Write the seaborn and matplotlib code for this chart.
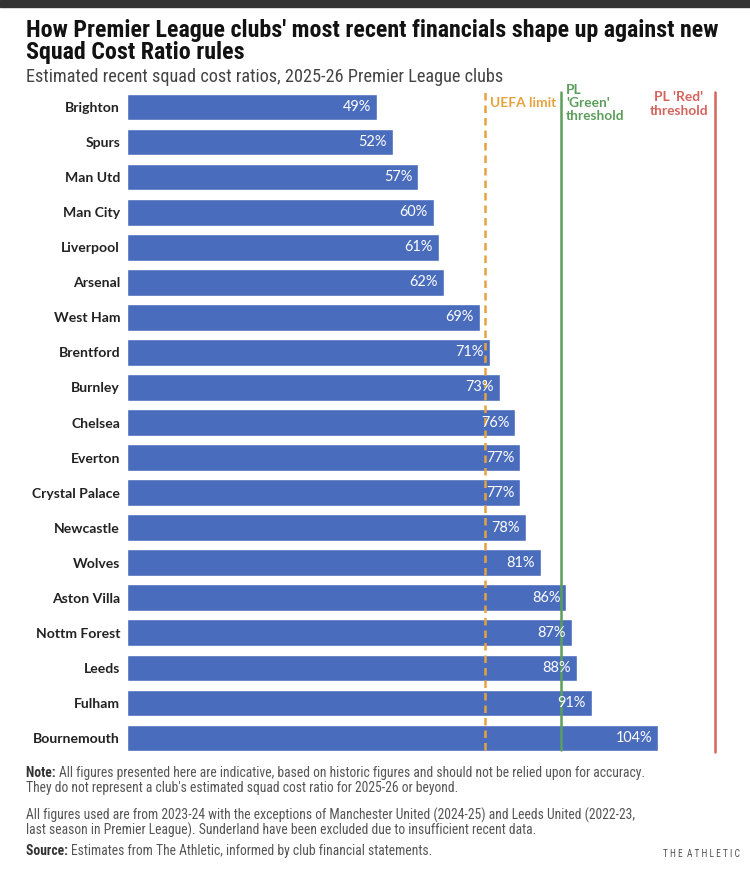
import matplotlib
matplotlib.use("Agg")
import matplotlib.pyplot as plt
import seaborn as sns

clubs = ["Brighton", "Spurs", "Man Utd", "Man City", "Liverpool", "Arsenal",
         "West Ham", "Brentford", "Burnley", "Chelsea", "Everton",
         "Crystal Palace", "Newcastle", "Wolves", "Aston Villa",
         "Nottm Forest", "Leeds", "Fulham", "Bournemouth"]
ratios = [49, 52, 57, 60, 61, 62, 69, 71, 73, 76, 77, 77, 78, 81, 86, 87, 88, 91, 104]

uefa_limit = 70
green_threshold = 85
red_threshold = 115

BLUE = "#4a6cbd"
ORANGE = "#e5a340"
GREEN = "#5c9e5c"
RED = "#d4645c"
COND = ["Roboto Condensed", "Roboto", "DejaVu Sans"]
SANS = ["Lato", "DejaVu Sans"]

W, H = 750, 877


def fx(px):
    return px / W


def fy(py):
    return 1 - py / H


def width_of(txt):
    return txt.get_window_extent(fig.canvas.get_renderer()).width


def fit(txt, width_px):
    # rescale the font so the text is width_px wide
    txt.set_fontsize(txt.get_fontsize() * width_px / width_of(txt))
    return txt


def fitted_size(s, width_px, **kw):
    probe = fig.text(0, 0, s, **kw)
    fit(probe, width_px)
    size = probe.get_fontsize()
    probe.remove()
    return size


sns.set_style("white")
plt.rcParams["font.family"] = COND
fig = plt.figure(figsize=(W / 100, H / 100), dpi=100)

# dark strip at the very top of the screenshot
fig.add_artist(plt.Rectangle((0, fy(7)), 1, 7 / H, transform=fig.transFigure,
                             color="#333333", zorder=0))

ax = fig.add_axes([fx(127), fy(755.5), fx(730) - fx(127), (755.5 - 89.5) / H])
sns.barplot(x=ratios, y=clubs, color=BLUE, saturation=1, width=0.76,
            orient="h", ax=ax)
ax.set_xlim(0, 118)
ax.set_ylim(len(clubs) - 0.5, -0.5)
sns.despine(ax=ax, left=True, bottom=True)
ax.set_xticks([])
ax.set_xlabel("")
ax.set_ylabel("")
ax.tick_params(axis="y", length=0, pad=5)

tick_size = fitted_size("Bournemouth", 87, family=SANS, fontweight="bold")
for lbl in ax.get_yticklabels():
    lbl.set_fontfamily(SANS)
    lbl.set_fontweight("bold")
    lbl.set_fontsize(tick_size)
    lbl.set_color("#222222")

val_size = fitted_size("104%", 37, family=SANS)
for i, v in enumerate(ratios):
    ax.text(v - 1.2, i, f"{v}%", ha="right", va="center", color="white",
            fontsize=val_size, family=SANS)

ax.axvline(uefa_limit, color=ORANGE, lw=1.8, ls=(0, (3, 2)), ymin=0.008, ymax=0.996)
ax.axvline(green_threshold, color=GREEN, lw=1.8, ymin=0.008, ymax=0.996)
ax.axvline(red_threshold, color=RED, lw=1.8, ymin=0.006, ymax=0.996)

lab_size = fitted_size("UEFA limit", 66, family=SANS, fontweight="bold")
lab_kw = dict(fontsize=lab_size, fontweight="bold", family=SANS, va="center",
              linespacing=1.15)
fig.text(fx(490), fy(103), "UEFA limit", color=ORANGE, ha="left", **lab_kw)
fig.text(fx(566), fy(103), "PL\n'Green'\nthreshold", color=GREEN, ha="left", **lab_kw)
fig.text(fx(708), fy(104), "PL 'Red'\nthreshold", color=RED, ha="right",
         multialignment="center", **lab_kw)

t1 = fig.text(fx(26), fy(31), "How Premier League clubs' most recent financials shape up against new",
              fontsize=14, fontweight="bold", color="#121212", va="center", ha="left")
fit(t1, 697)
fig.text(fx(26), fy(53), "Squad Cost Ratio rules", fontsize=t1.get_fontsize(),
         fontweight="bold", color="#121212", va="center", ha="left")
sub = fig.text(fx(26), fy(77), "Estimated recent squad cost ratios, 2025-26 Premier League clubs",
               fontsize=11, color="#444444", va="center", ha="left")
fit(sub, 477)

notes = [
    ("Note: ", "All figures presented here are indicative, based on historic figures and should not be relied upon for accuracy.", 773),
    ("", "They do not represent a club's estimated squad cost ratio for 2025-26 or beyond.", 788),
    ("", "All figures used are from 2023-24 with the exceptions of Manchester United (2024-25) and Leeds United (2022-23,", 815),
    ("", "last season in Premier League). Sunderland have been excluded due to insufficient recent data.", 830),
    ("Source: ", "Estimates from The Athletic, informed by club financial statements.", 851),
]
note_kw = dict(color="#555555", va="center", ha="left")
note_kw["fontsize"] = fitted_size(notes[0][0] + notes[0][1], 615, **note_kw)
for head, body, y in notes:
    x = fx(26)
    if head:
        h = fig.text(x, fy(y), head, fontweight="bold", color="#333333",
                     fontsize=note_kw["fontsize"], va="center", ha="left")
        x = h.get_window_extent(fig.canvas.get_renderer()).x1 / W
    fig.text(x, fy(y), body, **note_kw)

brand = fig.text(fx(740), fy(854), "T H E  A T H L E T I C", fontsize=6,
                 color="#555555", va="center", ha="right")
fit(brand, 77)

fig.savefig("out.png", dpi=100, facecolor="white")
